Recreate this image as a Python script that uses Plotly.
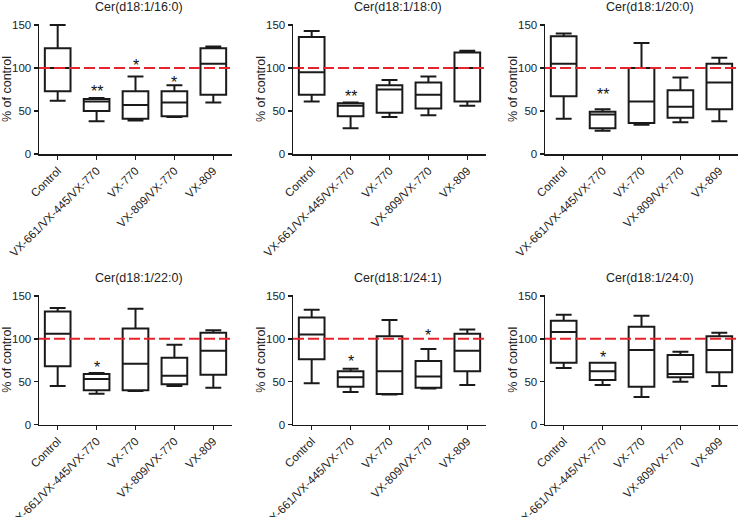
import plotly.graph_objects as go

categories = ["Control", "VX-661/VX-445/VX-770", "VX-770", "VX-809/VX-770", "VX-809"]
y_ticks = [0, 50, 100, 150]
control_level = 100

titles = ["Cer(d18:1/16:0)", "Cer(d18:1/18:0)", "Cer(d18:1/20:0)",
          "Cer(d18:1/22:0)", "Cer(d18:1/24:1)", "Cer(d18:1/24:0)"]

# Cer(d18:1/16:0)
p1_low = [62, 38, 39, 43, 60]
p1_q1 = [73, 50, 41, 44, 69]
p1_med = [100, 61, 57, 60, 105]
p1_q3 = [123, 64, 73, 73, 123]
p1_high = [150, 65, 90, 80, 125]
p1_sig = ["", "**", "*", "*", ""]
p1_sig_y = [None, 79, 109, 89, None]

# Cer(d18:1/18:0)
p2_low = [61, 30, 43, 45, 56]
p2_q1 = [69, 44, 48, 53, 61]
p2_med = [95, 56, 75, 69, 100]
p2_q3 = [136, 59, 80, 83, 118]
p2_high = [143, 60, 86, 90, 120]
p2_sig = ["", "**", "", "", ""]
p2_sig_y = [None, 72.5, None, None, None]

# Cer(d18:1/20:0)
p3_low = [41, 27, 34, 37, 38]
p3_q1 = [67, 30, 36, 42, 52]
p3_med = [105, 46, 61, 55, 83]
p3_q3 = [137, 49, 100, 74, 105]
p3_high = [140, 52, 129, 89, 112]
p3_sig = ["", "**", "", "", ""]
p3_sig_y = [None, 75, None, None, None]

# Cer(d18:1/22:0)
p4_low = [45, 36, 39, 45, 43]
p4_q1 = [68, 40, 40, 47, 58]
p4_med = [106, 53, 71, 57, 86]
p4_q3 = [132, 59, 112, 78, 107]
p4_high = [136, 60, 135, 93, 110]
p4_sig = ["", "*", "", "", ""]
p4_sig_y = [None, 72.5, None, None, None]

# Cer(d18:1/24:1)
p5_low = [48, 38, 35, 42, 46]
p5_q1 = [76, 44, 35.5, 43, 62]
p5_med = [105, 55, 62, 56, 86]
p5_q3 = [125, 62, 103, 74, 106]
p5_high = [134, 65, 122, 88, 111]
p5_sig = ["", "*", "", "*", ""]
p5_sig_y = [None, 79, None, 110, None]

# Cer(d18:1/24:0)
p6_low = [66, 46, 32, 50, 45]
p6_q1 = [72, 52, 44, 55, 61]
p6_med = [108, 62, 87, 59, 87]
p6_q3 = [121, 72, 114, 81, 103]
p6_high = [128, 72, 127, 85, 107]
p6_sig = ["", "*", "", "", ""]
p6_sig_y = [None, 84, None, None, None]

panels = [
    (p1_low, p1_q1, p1_med, p1_q3, p1_high, p1_sig, p1_sig_y),
    (p2_low, p2_q1, p2_med, p2_q3, p2_high, p2_sig, p2_sig_y),
    (p3_low, p3_q1, p3_med, p3_q3, p3_high, p3_sig, p3_sig_y),
    (p4_low, p4_q1, p4_med, p4_q3, p4_high, p4_sig, p4_sig_y),
    (p5_low, p5_q1, p5_med, p5_q3, p5_high, p5_sig, p5_sig_y),
    (p6_low, p6_q1, p6_med, p6_q3, p6_high, p6_sig, p6_sig_y),
]

W, H = 741, 517
FONT = "Arial, Liberation Sans, sans-serif"
TXT = "#222222"

# layout geometry (pixels)
col_left = [39, 293, 545]
panel_w = 193
row_zero = [154, 424.5]      # pixel y of value 0
row_top = [24.1, 295.1]      # pixel y of top of range
title_y = [7, 278]
title_dx = [3, 8, 8]

fig = go.Figure()
annotations = []
shapes = []

for i, (low, q1, med, q3, high, sig, sig_y) in enumerate(panels):
    r, c = divmod(i, 3)
    n = "" if i == 0 else str(i + 1)
    xa, ya = "x" + n, "y" + n
    fig.add_trace(go.Box(
        x=categories, lowerfence=low, q1=q1, median=med, q3=q3, upperfence=high,
        xaxis=xa, yaxis=ya, fillcolor="white",
        line=dict(color="#1a1a1a", width=2), width=0.66, whiskerwidth=0.62,
        boxpoints=False, showlegend=False, hoverinfo="skip"))
    x0 = col_left[c] / W
    x1 = min((col_left[c] + panel_w) / W, 1.0)
    y0 = (H - row_zero[r]) / H
    y1 = (H - row_top[r]) / H
    axis_common = dict(showline=True, linecolor="#1a1a1a", linewidth=1.5,
                       ticks="outside", ticklen=4, tickwidth=1.5, tickcolor="#1a1a1a",
                       showgrid=False, zeroline=False, automargin=False,
                       tickfont=dict(family=FONT, size=11.5, color=TXT))
    fig.update_layout(**{
        "xaxis" + n: dict(domain=[x0, x1], anchor=ya, type="category",
                          categoryorder="array", categoryarray=categories,
                          range=[-0.48, 4.48], tickangle=-45, **axis_common),
        "yaxis" + n: dict(domain=[y0, y1], anchor=xa, range=[0, 151],
                          tickvals=y_ticks, **axis_common),
    })
    shapes.append(dict(type="line", xref=xa + " domain", yref=ya, x0=0, x1=1,
                       y0=control_level, y1=control_level,
                       line=dict(color="#e8232a", width=2, dash="11px,4px"), layer="above"))
    annotations.append(dict(text=titles[i], xref="paper", yref="paper",
                            x=(col_left[c] + panel_w / 2 + title_dx[c]) / W,
                            y=1 - title_y[r] / H, xanchor="center", yanchor="middle",
                            showarrow=False, font=dict(family=FONT, size=12.5, color=TXT)))
    annotations.append(dict(text="% of control", xref="paper", yref="paper",
                            x=(col_left[c] - 32) / W, y=(y0 + y1) / 2, textangle=-90,
                            xanchor="center", yanchor="middle", showarrow=False,
                            font=dict(family=FONT, size=12.5, color=TXT)))
    for k, s in enumerate(sig):
        if s:
            annotations.append(dict(text=s, xref=xa, yref=ya, x=categories[k], y=sig_y[k],
                                    xanchor="center", yanchor="middle", yshift=-5,
                                    showarrow=False,
                                    font=dict(family=FONT, size=16, color="#111111")))

fig.update_layout(width=W, height=H, margin=dict(l=0, r=0, t=0, b=0),
                  plot_bgcolor="white", paper_bgcolor="white",
                  annotations=annotations, shapes=shapes, showlegend=False)

fig.write_html("out.html", config={"displayModeBar": False, "staticPlot": True},
               post_script="document.body.style.margin='0';document.body.style.overflow='hidden';")
